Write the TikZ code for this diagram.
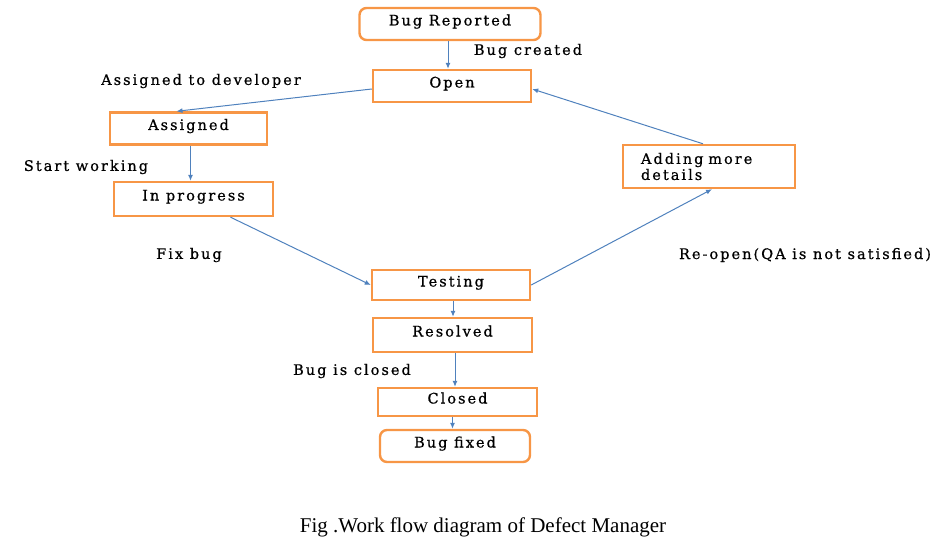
\documentclass[tikz,border=0pt]{standalone}
\usepackage{fontspec}
\setmainfont[LetterSpace=14,FakeBold=0.7]{DejaVu Serif}
\newfontfamily\capfont{Liberation Serif}
\usetikzlibrary{arrows.meta}

\definecolor{boxorange}{RGB}{247,150,70}
\definecolor{flowblue}{RGB}{79,129,189}

\begin{document}
\begin{tikzpicture}[
    x=1pt, y=-1pt,
    font=\fontsize{14.5}{16}\selectfont,
    state/.style={draw=boxorange, line width=2.4pt, fill=white,
        minimum height=32pt, text height=10pt, text depth=7pt},
    endstate/.style={state, rounded corners=7pt},
    flow/.style={draw=flowblue, line width=1pt, -{Latex[length=6pt,width=5pt]}},
    tag/.style={inner sep=1pt}
]
\useasboundingbox (0,0) rectangle (941,545);

% states
\node[endstate, minimum width=181pt] (reported) at (450,24)    {Bug Reported};
\node[state, minimum width=158pt]    (open)     at (452,86)    {Open};
\node[state, minimum width=157pt]    (assigned) at (188.5,128.5) {Assigned};
\node[state, minimum width=159pt, minimum height=34pt] (progress) at (193.5,199) {In progress};
\node[state, minimum width=172pt, minimum height=43pt, text width=136pt,
      align=left, text height=, text depth=] (details) at (709,166.5)
      {Adding more\\details};
\node[state, minimum width=158pt, minimum height=30pt] (testing)  at (451,285)   {Testing};
\node[state, minimum width=159pt, minimum height=34pt] (resolved) at (452.5,335) {Resolved};
\node[state, minimum width=159pt, minimum height=28pt] (closed)   at (457.5,402) {Closed};
\node[endstate, minimum width=150pt] (fixed)    at (455,446)   {Bug fixed};

% transitions
\draw[flow] ([xshift=-2pt]reported.south) -- ([xshift=-2pt]reported.south |- open.north);
\draw[flow] ([yshift=-3pt]open.west) -- ([xshift=-12pt]assigned.north);
\draw[flow] ([xshift=2pt]assigned.south) -- ([xshift=2pt]assigned.south |- progress.north);
\draw[flow] ([xshift=37pt]progress.south) -- (testing.west);
\draw[flow] (testing.east) -- ([xshift=3pt]details.south);
\draw[flow] ([xshift=-6pt]details.north) -- ([yshift=-3pt]open.east);
\draw[flow] ([xshift=2pt]testing.south) -- ([xshift=2pt]testing.south |- resolved.north);
\draw[flow] ([xshift=2.5pt]resolved.south) -- ([xshift=2.5pt]resolved.south |- closed.north);
\draw[flow] ([xshift=-5pt]closed.south) -- ([xshift=-5pt]closed.south |- fixed.north);

% labels
\node[tag] (lcreated)  at (528,51)  {Bug created};
\node[tag] (lassigned) at (201,81)  {Assigned to developer};
\node[tag] (lstart)    at (86,167)  {Start working};
\node[tag] (lfix)      at (189,255) {Fix bug};
\node[tag] (lreopen)   at (805,255) {Re-open(QA is not satisfied)};
\node[tag] (lclosed)   at (352,371) {Bug is closed};

% caption
\node (caption) at (483,527) {\capfont\fontsize{21}{24}\selectfont Fig .Work flow diagram of Defect Manager};
\end{tikzpicture}
\end{document}
